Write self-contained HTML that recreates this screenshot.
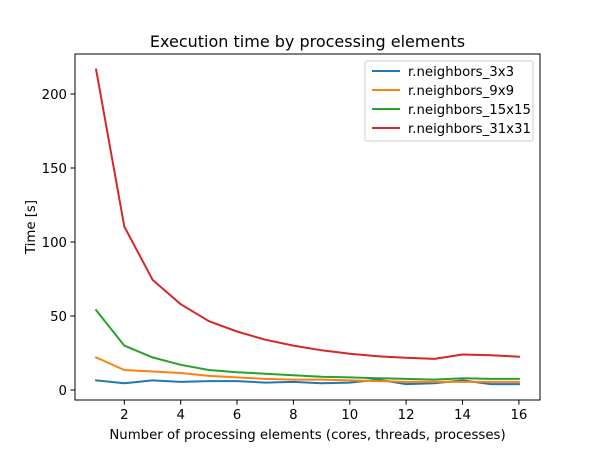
<!DOCTYPE html>
<html><head><meta charset="utf-8"><style>
body{margin:0;background:#fff}
svg text{font-family:"DejaVu Sans","Liberation Sans",sans-serif;fill:#000}
</style></head><body>
<svg width="600" height="450" xmlns="http://www.w3.org/2000/svg">
<rect width="600" height="450" fill="#fff"/>
<g fill="none" stroke-width="2" stroke-linejoin="round" stroke-linecap="square">
<polyline stroke="#1f77b4" points="96.1,380.4 124.3,383.3 152.5,380.4 180.7,381.9 208.9,381.1 237,381.1 265.2,382.6 293.4,381.9 321.6,383.3 349.8,382.6 378,379.6 406.1,384.1 434.3,383.3 462.5,380.4 490.7,384.1 518.9,384.1"/>
<polyline stroke="#ff7f0e" points="96.1,357.4 124.3,370 152.5,371.5 180.7,373 208.9,375.9 237,377.4 265.2,378.9 293.4,379.6 321.6,379.6 349.8,380.4 378,381.1 406.1,381.9 434.3,381.9 462.5,381.9 490.7,381.9 518.9,381.9"/>
<polyline stroke="#2ca02c" points="96.1,310.1 124.3,345.6 152.5,357.4 180.7,364.8 208.9,370 237,372.2 265.2,373.7 293.4,375.2 321.6,376.7 349.8,377.4 378,378.2 406.1,378.9 434.3,379.6 462.5,378.2 490.7,378.9 518.9,378.9"/>
<polyline stroke="#d62728" points="96.1,69.6 124.3,226.5 152.5,279.7 180.7,304.2 208.9,321.2 237,331.5 265.2,339.7 293.4,345.6 321.6,350.3 349.8,353.7 378,356.3 406.1,357.7 434.3,358.9 462.5,354.5 490.7,355.2 518.9,356.7"/>
</g>
<rect x="75" y="54" width="465" height="346" fill="none" stroke="#000" stroke-width="1"/>
<g stroke="#000" stroke-width="1">
<line x1="124.3" y1="400" x2="124.3" y2="404.7"/><line x1="180.7" y1="400" x2="180.7" y2="404.7"/>
<line x1="237" y1="400" x2="237" y2="404.7"/><line x1="293.4" y1="400" x2="293.4" y2="404.7"/>
<line x1="349.8" y1="400" x2="349.8" y2="404.7"/><line x1="406.1" y1="400" x2="406.1" y2="404.7"/>
<line x1="462.5" y1="400" x2="462.5" y2="404.7"/><line x1="518.9" y1="400" x2="518.9" y2="404.7"/>
<line x1="70.3" y1="390" x2="75" y2="390"/><line x1="70.3" y1="316" x2="75" y2="316"/>
<line x1="70.3" y1="242" x2="75" y2="242"/><line x1="70.3" y1="168" x2="75" y2="168"/>
<line x1="70.3" y1="94" x2="75" y2="94"/>
</g>
<g font-size="13.3" text-anchor="middle">
<text x="124.3" y="419">2</text><text x="180.7" y="419">4</text><text x="237" y="419">6</text>
<text x="293.4" y="419">8</text><text x="349.8" y="419">10</text><text x="406.1" y="419">12</text>
<text x="462.5" y="419">14</text><text x="518.9" y="419">16</text>
</g>
<g font-size="13.3" text-anchor="end">
<text x="67" y="395">0</text><text x="67" y="321">50</text><text x="67" y="247">100</text>
<text x="67" y="173">150</text><text x="67" y="99">200</text>
</g>
<text x="307.5" y="439" font-size="13.3" text-anchor="middle">Number of processing elements (cores, threads, processes)</text>
<text transform="translate(35,227) rotate(-90)" font-size="13.3" text-anchor="middle">Time [s]</text>
<text x="307.5" y="47" font-size="16" text-anchor="middle">Execution time by processing elements</text>
<rect x="365" y="61" width="168" height="80" rx="2" fill="#fff" fill-opacity="0.8" stroke="#ccc" stroke-width="1"/>
<g stroke-width="2">
<line x1="372" y1="71" x2="400" y2="71" stroke="#1f77b4"/>
<line x1="372" y1="90" x2="400" y2="90" stroke="#ff7f0e"/>
<line x1="372" y1="109" x2="400" y2="109" stroke="#2ca02c"/>
<line x1="372" y1="128" x2="400" y2="128" stroke="#d62728"/>
</g>
<g font-size="13.3">
<text x="408" y="76">r.neighbors_3x3</text>
<text x="408" y="95">r.neighbors_9x9</text>
<text x="408" y="114">r.neighbors_15x15</text>
<text x="408" y="133">r.neighbors_31x31</text>
</g>
</svg>
</body></html>
